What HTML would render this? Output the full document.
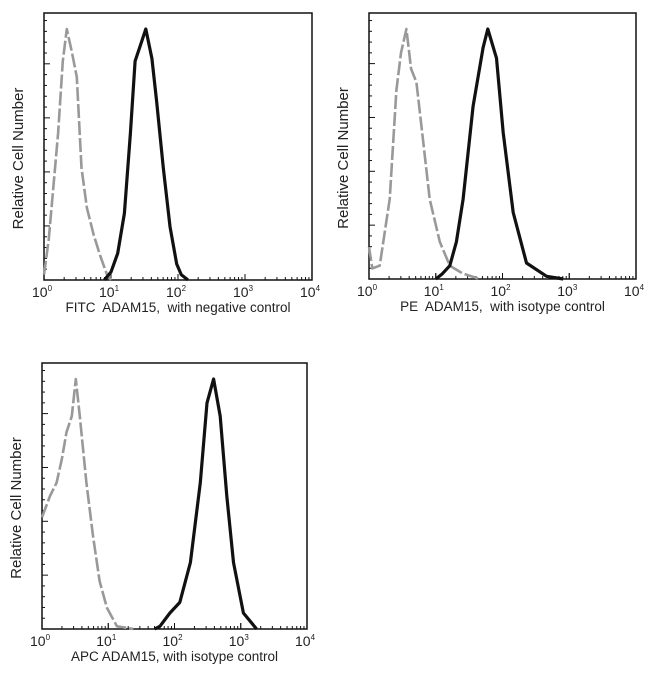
<!DOCTYPE html>
<html><head><meta charset="utf-8"><style>
body{margin:0;background:#fff;}
svg{display:block;font-family:"Liberation Sans",sans-serif;}
text{white-space:pre;}
</style></head><body>
<svg id="c" width="650" height="677"></svg>
<script>
// Each series: log10(fluorescence) positions and relative counts (% of full height)
const p1GrayX=[0,0.07,0.14,0.21,0.28,0.34,0.42,0.49,0.56,0.64,0.74,0.84,0.94,1.0];
const p1GrayY=[2,15,35,55,82,94,85,76,42,27,17,9,2,0];
const p1BlackX=[0.9,1.0,1.1,1.2,1.29,1.36,1.44,1.52,1.61,1.68,1.78,1.88,1.98,2.05,2.15];
const p1BlackY=[0,3,10,25,55,82,88,94,83,67,42,20,6,2,0];
const p2GrayX=[0,0.05,0.16,0.31,0.41,0.48,0.56,0.63,0.71,0.81,0.91,1.06,1.21,1.41,1.66];
const p2GrayY=[12,4,5,30,71,85,94,79,74,52,30,14,5,2,0];
const p2BlackX=[1.0,1.1,1.21,1.31,1.41,1.56,1.71,1.78,1.91,2.01,2.16,2.36,2.66,2.91];
const p2BlackY=[0,2,5,14,30,65,87,94,83,55,25,6,1,0];
const p3GrayX=[0,0.12,0.22,0.3,0.37,0.45,0.51,0.57,0.67,0.77,0.87,0.98,1.13,1.38];
const p3GrayY=[42,50,55,64,74,80,94,80,55,35,18,8,1,0];
const p3BlackX=[1.7,1.78,1.93,2.08,2.24,2.39,2.49,2.59,2.69,2.79,2.89,3.04,3.24];
const p3BlackY=[0,1,6,10,25,55,85,94,80,50,25,6,0];
const xTicks=["0","1","2","3","4"];
const yLabel="Relative Cell Number";

const NS="http://www.w3.org/2000/svg";
const svg=document.getElementById('c');
function mk(t,a,p){const e=document.createElementNS(NS,t);for(const k in a)e.setAttribute(k,a[k]);(p||svg).appendChild(e);return e;}

function panel(name,L,R,T,B,xlab,gx,gy,bx,by){
  const g=mk('g',{});
  
  
  const xs=v=>L+(R-L)*v/4, ys=v=>B-(B-T)*v/100;
  const box=mk('rect',{x:L,y:T,width:R-L,height:B-T,fill:'none',stroke:'#111','stroke-width':1.5},g);
  
  
  const step=(B-T)/4.94/5;
  for(let i=1;i*step<(B-T)-2;i++){const y=B-i*step;const len=i%5==0?6:3;
    const t=mk('line',{x1:L,x2:L+len,y1:y,y2:y,stroke:'#111','stroke-width':1},g);
    }
  for(let d=0;d<4;d++)for(let m=1;m<=10;m++){const v=d+Math.log10(m);const x=xs(v);const len=m==10||m==1?6:3;
    const t=mk('line',{x1:x,x2:x,y1:B,y2:B-len,stroke:'#111','stroke-width':1},g);
    }
  xTicks.forEach(k=>{const x=xs(+k);
    const t=mk('text',{x:x-2,y:B+17,'font-size':14,'text-anchor':'middle',fill:'#222'},g);
    t.textContent='10';
    
    const s=mk('tspan',{dy:-6,'font-size':8},t);s.textContent=k;});
  const xl=mk('text',{x:(L+R)/2,y:B+32,'font-size':13.5,'text-anchor':'middle',fill:'#222'},g);
  xl.textContent=xlab;
  const yl=mk('text',{x:0,y:0,'font-size':15,'text-anchor':'middle',fill:'#222',transform:`translate(${L-21},${(T+B)/2+12}) rotate(-90)`},g);
  yl.textContent=yLabel;
  const path=(X,Y)=>X.map((v,i)=>(i?'L':'M')+xs(v).toFixed(1)+','+ys(Y[i]).toFixed(1)).join('');
  const gp=mk('path',{d:path(gx,gy),fill:'none',stroke:'#999','stroke-width':2.6,'stroke-dasharray':'14 3','stroke-linejoin':'round'},g);
  
  const bp=mk('path',{d:path(bx,by),fill:'none',stroke:'#111','stroke-width':3.2,'stroke-linejoin':'round'},g);
  
}
panel('fitc-panel',44,312,13,280,'FITC  ADAM15,  with negative control',p1GrayX,p1GrayY,p1BlackX,p1BlackY);
panel('pe-panel',369,636,13,279,'PE  ADAM15,  with isotype control',p2GrayX,p2GrayY,p2BlackX,p2BlackY);
panel('apc-panel',42,307,363,629,'APC ADAM15, with isotype control',p3GrayX,p3GrayY,p3BlackX,p3BlackY);
</script>
</body></html>
